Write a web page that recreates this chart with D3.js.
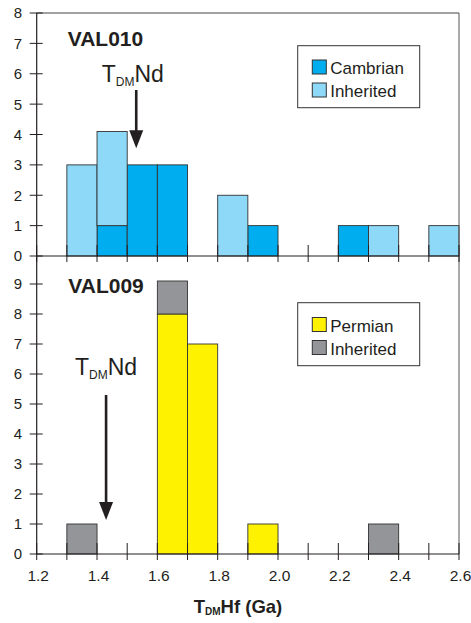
<!DOCTYPE html>
<html>
<head>
<meta charset="utf-8">
<script src="https://cdn.jsdelivr.net/npm/d3@7"></script>
<style>
  html, body { margin: 0; padding: 0; background: #fff; }
  svg { display: block; }
  text { font-family: "Liberation Sans", Arial, sans-serif; fill: #231f20; }
</style>
</head>
<body>
<svg id="chart" width="471" height="623"></svg>
<script>
// ---- data ----
const binStarts = [1.2, 1.3, 1.4, 1.5, 1.6, 1.7, 1.8, 1.9, 2.0, 2.1, 2.2, 2.3, 2.4, 2.5];
const binWidth = 0.1;
// VAL010
const cambrian      = [0, 0, 1, 3, 3, 0, 0, 1, 0, 0, 1, 0, 0, 0];
const inheritedTop  = [0, 3, 3.1, 0, 0, 0, 2, 0, 0, 0, 0, 1, 0, 1];
// VAL009
const permian       = [0, 0, 0, 0, 8, 7, 0, 1, 0, 0, 0, 0, 0, 0];
const inheritedBot  = [0, 1, 0, 0, 1.1, 0, 0, 0, 0, 0, 0, 1, 0, 0];

const xTickLabels = [1.2, 1.4, 1.6, 1.8, 2.0, 2.2, 2.4, 2.6];
const xMinorTicks = [1.2, 1.3, 1.4, 1.5, 1.6, 1.7, 1.8, 1.9, 2.0, 2.1, 2.2, 2.3, 2.4, 2.5, 2.6];
const yTicksTop = [0, 1, 2, 3, 4, 5, 6, 7, 8];
const yTicksBot = [0, 1, 2, 3, 4, 5, 6, 7, 8, 9];
const tdmNdTop = 1.53;
const tdmNdBot = 1.43;

// ---- layout ----
const svg = d3.select("#chart");
const left = 36.7, right = 459;
const topY = 13, midY = 256, botY = 554;
const axisColor = "#231f20";

const x = d3.scaleLinear().domain([1.2, 2.6]).range([left, right]);
const yTop = d3.scaleLinear().domain([0, 8]).range([midY, topY]);
const yBot = d3.scaleLinear().domain([0, (botY - midY) / 30]).range([botY, midY]);

function drawPanel(scaleY, primary, secondary, cPrimary, cSecondary) {
  const rows = binStarts.map((b, i) => ({ b, p: primary[i], s: secondary[i] }));
  const stack = d3.stack().keys(["p", "s"])(rows);
  const colors = [cPrimary, cSecondary];
  stack.forEach((layer, li) => {
    svg.append("g").selectAll("rect")
      .data(layer.filter(d => d[1] - d[0] > 0))
      .join("rect")
      .attr("x", d => x(d.data.b))
      .attr("width", d => x(d.data.b + binWidth) - x(d.data.b))
      .attr("y", d => scaleY(d[1]))
      .attr("height", d => scaleY(d[0]) - scaleY(d[1]))
      .attr("fill", colors[li])
      .attr("stroke", "#333")
      .attr("stroke-width", 0.9);
  });
}

drawPanel(yTop, cambrian, inheritedTop, "#00aeef", "#8ed8f8");
drawPanel(yBot, permian, inheritedBot, "#fff200", "#939598");

// frame
svg.append("line").attr("x1", left).attr("x2", right).attr("y1", topY).attr("y2", topY)
  .attr("stroke", "#444").attr("stroke-width", 1);
svg.append("line").attr("x1", right).attr("x2", right).attr("y1", topY).attr("y2", botY)
  .attr("stroke", "#555").attr("stroke-width", 1);

// y axis line
svg.append("line").attr("x1", left).attr("x2", left).attr("y1", topY).attr("y2", botY)
  .attr("stroke", axisColor).attr("stroke-width", 1.2);

// x axis lines + ticks
[[midY, 11, 6], [botY, 11, 6]].forEach(([yy, up, down]) => {
  svg.append("line").attr("x1", left).attr("x2", right).attr("y1", yy).attr("y2", yy)
    .attr("stroke", axisColor).attr("stroke-width", 1.2);
  svg.append("g").selectAll("line").data(xMinorTicks).join("line")
    .attr("x1", d => x(d)).attr("x2", d => x(d))
    .attr("y1", yy - up).attr("y2", yy + down)
    .attr("stroke", axisColor).attr("stroke-width", 1);
});

// y ticks + labels
function yAxis(scaleY, ticks) {
  const g = svg.append("g");
  g.selectAll("line").data(ticks).join("line")
    .attr("x1", left - 7).attr("x2", left + 6)
    .attr("y1", d => scaleY(d)).attr("y2", d => scaleY(d))
    .attr("stroke", axisColor).attr("stroke-width", 1);
  g.selectAll("text").data(ticks).join("text")
    .attr("x", 22).attr("y", d => scaleY(d)).attr("dy", "0.36em")
    .attr("text-anchor", "end").attr("font-size", "15px")
    .text(d => d);
}
yAxis(yTop, yTicksTop);
yAxis(yBot, yTicksBot);

// x tick labels
svg.append("g").selectAll("text").data(xTickLabels).join("text")
  .attr("x", d => x(d) + 1.5).attr("y", 580.7)
  .attr("text-anchor", "middle").attr("font-size", "15.5px")
  .text(d => d3.format(".1f")(d));

// x axis title
const xt = svg.append("text").attr("x", 238).attr("y", 612.7)
  .attr("text-anchor", "middle").attr("font-weight", "bold").attr("font-size", "18.5px");
xt.append("tspan").text("T");
xt.append("tspan").attr("font-size", "10px").attr("dy", 2.3).text("DM");
xt.append("tspan").attr("dy", -2.3).text("Hf (Ga)");

// panel titles
svg.append("text").attr("x", 67.7).attr("y", 45.7).attr("font-weight", "bold")
  .attr("font-size", "21px").text("VAL010");
svg.append("text").attr("x", 68.3).attr("y", 292.7).attr("font-weight", "bold")
  .attr("font-size", "21px").text("VAL009");

// TDM Nd labels and arrows
function ndLabel(xpos, baseline) {
  const t = svg.append("text").attr("x", xpos).attr("y", baseline).attr("font-size", "23px");
  t.append("tspan").text("T");
  t.append("tspan").attr("font-size", "12px").attr("dy", 4.3).text("DM");
  t.append("tspan").attr("dy", -4.3).text("Nd");
}
function arrow(xv, y0, y1) {
  const xc = x(xv);
  svg.append("line").attr("x1", xc).attr("x2", xc).attr("y1", y0).attr("y2", y1 - 14)
    .attr("stroke", "#231f20").attr("stroke-width", 2.6);
  svg.append("path")
    .attr("d", `M${xc - 7},${y1 - 18} L${xc + 7},${y1 - 18} L${xc},${y1} Z`)
    .attr("fill", "#231f20");
}
ndLabel(101.7, 81.7);
arrow(tdmNdTop, 90, 148.3);
ndLabel(75, 375);
arrow(tdmNdBot, 395, 520);

// legends
function legend(x0, y0, w, h, items) {
  svg.append("rect").attr("x", x0).attr("y", y0).attr("width", w).attr("height", h)
    .attr("fill", "#fff").attr("stroke", "#333").attr("stroke-width", 1);
  items.forEach((it, i) => {
    svg.append("rect").attr("x", x0 + 14.6).attr("y", it.sy)
      .attr("width", 14).attr("height", 14)
      .attr("fill", it.color).attr("stroke", "#333").attr("stroke-width", 1);
    svg.append("text").attr("x", x0 + 32.5).attr("y", it.sy + 14)
      .attr("font-size", "17px").text(it.label);
  });
}
legend(297.7, 45.7, 122, 62, [
  { label: "Cambrian", color: "#00aeef", sy: 60 },
  { label: "Inherited", color: "#8ed8f8", sy: 83 }
]);
legend(297.7, 302.7, 122, 63, [
  { label: "Permian", color: "#fff200", sy: 317.5 },
  { label: "Inherited", color: "#939598", sy: 340.5 }
]);
</script>
</body>
</html>
